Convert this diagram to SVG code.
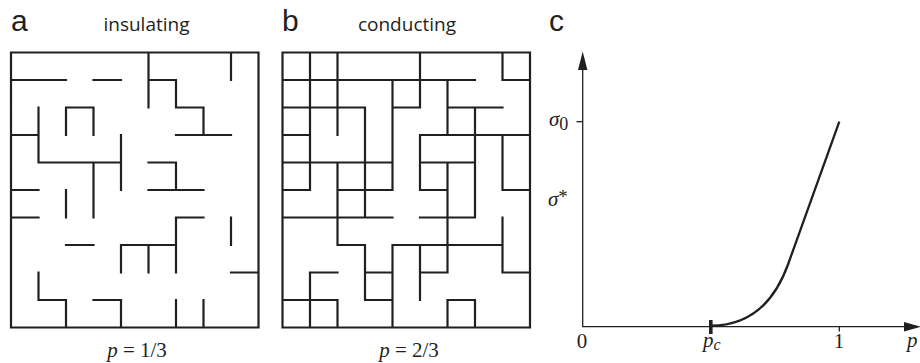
<svg xmlns="http://www.w3.org/2000/svg" width="920" height="363" viewBox="0 0 920 363">
<style>
.grid{fill:none;stroke:#231f20;stroke-width:2.2;stroke-linecap:square;vector-effect:non-scaling-stroke}
.lbl{font-family:"Liberation Sans",Arial,sans-serif;font-size:30px;fill:#231f20}
.ttl{font-family:"Open Sans","Noto Sans",sans-serif;font-size:19px;fill:#231f20;text-anchor:middle}
.cap{font-family:"Liberation Serif","Times New Roman",serif;font-size:21px;fill:#231f20}
.it{font-style:italic}
.axis{stroke:#231f20;stroke-width:1.3;fill:none}
</style>
<g id="panel-a">
<text class="lbl" x="11" y="31">a</text>
<text class="ttl" x="146.5" y="31">insulating</text>
<g transform="translate(11,52.5) scale(27.5)">
<path class="grid" d="M0 0H9V10H0Z M0 1H2M3 1H4M5 1H6 M2 2H3M6 2H7 M0 3H1M6 3H8 M1 4H4M5 4H6 M0 5H1M5 5H7 M0 6H1M6 6H7 M2 7H3M4 7H6 M8 8H9 M1 9H2M3 9H4 M1 2V4M1 8V9 M2 2V3M2 5V6M2 9V10 M3 2V3M3 4V6 M4 3V5M4 7V8M4 9V10 M5 0V2M5 7V8 M6 1V2M6 4V5M6 6V8M6 9V10 M7 2V3M7 9V10 M8 0V1M8 6V7"/>
</g>
<text class="cap" x="137" y="357" text-anchor="middle"><tspan class="it">p</tspan> = 1/3</text>
</g>
<g id="panel-b">
<text class="lbl" x="282" y="31">b</text>
<text class="ttl" x="407" y="31">conducting</text>
<g transform="translate(282.5,52.5) scale(27.5)">
<path class="grid" d="M0 0H9V10H0Z M0 1H7M8 1H9 M0 2H3M4 2H5M6 2H8 M0 3H1M5 3H9 M0 4H4M5 4H7 M0 5H1M2 5H4M5 5H6M8 5H9 M0 6H4M5 6H7 M2 7H3M4 7H8 M1 8H2M3 8H4M5 8H6M8 8H9 M0 9H2M3 9H4M6 9H7 M1 0V5M1 8V10 M2 0V3M2 4V7M2 9V10 M3 2V6M3 7V9 M4 1V5M4 7V10 M5 0V2M5 3V5M5 7V9 M6 1V3M6 4V8M6 9V10 M7 2V6M7 9V10 M8 0V1M8 3V5M8 6V8"/>
</g>
<text class="cap" x="409" y="357" text-anchor="middle"><tspan class="it">p</tspan> = 2/3</text>
</g>
<g id="panel-c">
<text class="lbl" x="549" y="31">c</text>
<g id="axes">
<line class="axis" x1="582.7" y1="327" x2="582.7" y2="68"/>
<polygon points="582.7,51.5 578,70 587.4,70" fill="#231f20"/>
<line class="axis" x1="582" y1="326.7" x2="906" y2="326.7"/>
<polygon points="921,326.7 904,322 904,331.4" fill="#231f20"/>
<line class="axis" x1="576.5" y1="121.7" x2="582.7" y2="121.7"/>
<line class="axis" x1="839.3" y1="326.7" x2="839.3" y2="331.5"/>
<rect x="709" y="320" width="3.6" height="14" fill="#231f20"/>
</g>
<path id="curve" d="M711 325.6 C757 325.6 778 292 788 264.5 L839.3 121.7" fill="none" stroke="#231f20" stroke-width="2.3"/>
<text class="cap it" x="549" y="126" font-size="22">σ<tspan font-style="normal" font-size="18" dy="4">0</tspan></text>
<text class="cap it" x="548" y="206" font-size="22">σ<tspan font-style="normal" font-size="19" dy="-3">*</tspan></text>
<text class="cap" x="582" y="348" text-anchor="middle">0</text>
<text class="cap it" x="703" y="347">p<tspan font-size="16" dy="3">c</tspan></text>
<text class="cap" x="839" y="348" text-anchor="middle">1</text>
<text class="cap it" x="907" y="347">p</text>
</g>
</svg>
